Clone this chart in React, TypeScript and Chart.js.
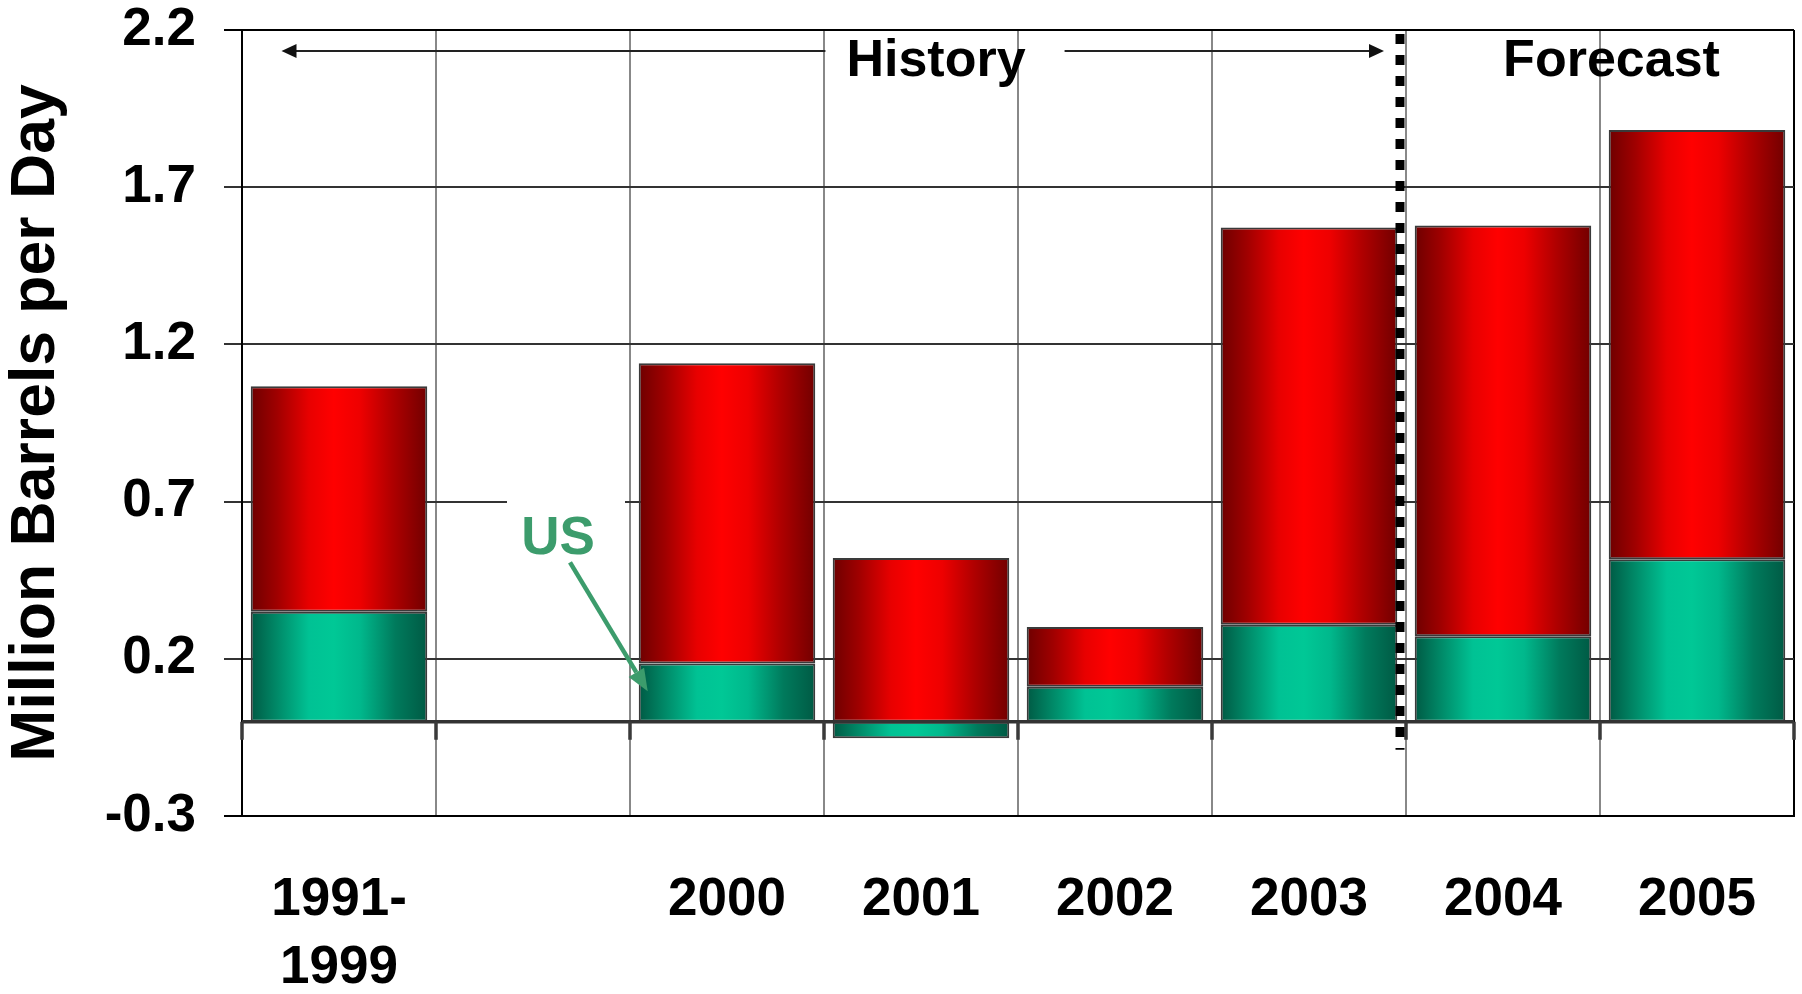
import React, { useEffect, useRef } from "react";
import { Chart, registerables } from "chart.js";

Chart.register(...registerables);

// ---------------- data ----------------
const categories: (string | string[])[] = [["1991-", "1999"], "", "2000", "2001", "2002", "2003", "2004", "2005"];
const usValues: (number | null)[] = [0.35, null, 0.185, -0.053, 0.111, 0.308, 0.272, 0.517];
const otherValues: (number | null)[] = [0.717, null, 0.955, 0.521, 0.19, 1.264, 1.306, 1.365];
const yTicks: number[] = [-0.3, 0.2, 0.7, 1.2, 1.7, 2.2];
const yTitle = "Million Barrels per Day";
const historyLabel = "History";
const forecastLabel = "Forecast";
const usLabel = "US";

// ---------------- style ----------------
const FONT = '"Liberation Sans", Arial, Helvetica, sans-serif';
const BAR_PCT = 0.91;
const RED_STOPS: [number, string][] = [
  [0, "#6e0000"],
  [0.15, "#a00000"],
  [0.33, "#e80000"],
  [0.47, "#ff0000"],
  [0.62, "#ee0000"],
  [0.8, "#b00000"],
  [1, "#720000"],
];
const GREEN_STOPS: [number, string][] = [
  [0, "#005a44"],
  [0.15, "#008a68"],
  [0.33, "#00c294"],
  [0.47, "#00c896"],
  [0.62, "#00b88c"],
  [0.82, "#007a5c"],
  [1, "#005a44"],
];
const US_GREEN = "#3c9c6c";

function barGradient(stops: [number, string][]) {
  return (c: any) => {
    const chart = c.chart;
    const area = chart.chartArea;
    const xs = chart.scales && chart.scales.x;
    if (!area || !xs || c.dataIndex === undefined) return stops[3][1];
    const center = xs.getPixelForValue(c.dataIndex);
    const catW = (area.right - area.left) / categories.length;
    const half = (catW * BAR_PCT) / 2;
    const g = chart.ctx.createLinearGradient(center - half, 0, center + half, 0);
    stops.forEach(([o, col]) => g.addColorStop(o, col));
    return g;
  };
}

function arrowHead(ctx: CanvasRenderingContext2D, x1: number, y1: number, x2: number, y2: number, len: number, half: number) {
  const ang = Math.atan2(y2 - y1, x2 - x1);
  const bx = x2 - len * Math.cos(ang);
  const by = y2 - len * Math.sin(ang);
  ctx.beginPath();
  ctx.moveTo(x2, y2);
  ctx.lineTo(bx + half * Math.sin(ang), by - half * Math.cos(ang));
  ctx.lineTo(bx - half * Math.sin(ang), by + half * Math.cos(ang));
  ctx.closePath();
  ctx.fill();
  return [bx, by];
}

const overlayPlugin = {
  id: "overlay",
  afterDatasetsDraw(chart: any) {
    const { ctx, chartArea: a, scales } = chart;
    const x = scales.x;
    const y = scales.y;
    const n = categories.length;
    const catW = (a.right - a.left) / n;
    const edge = (i: number) => x.getPixelForValue(i - 0.5);
    const y0 = y.getPixelForValue(0);

    ctx.save();

    // zero axis line with category tick marks
    ctx.strokeStyle = "#333333";
    ctx.lineWidth = 3.5;
    ctx.beginPath();
    ctx.moveTo(a.left, y0);
    ctx.lineTo(a.right, y0);
    ctx.stroke();
    ctx.strokeStyle = "#3a3a3a";
    ctx.lineWidth = 3.5;
    ctx.beginPath();
    for (let i = 0; i <= n; i++) {
      const ex = edge(i);
      ctx.moveTo(ex, y0);
      ctx.lineTo(ex, y0 + 18);
    }
    ctx.stroke();

    // "US" label with white box and arrow
    const usX = x.getPixelForValue(1) + 25;
    const usBase = y.getPixelForValue(0.532);
    ctx.fillStyle = "#ffffff";
    ctx.fillRect(usX - 51, usBase - 78, 118, 84);
    ctx.fillStyle = US_GREEN;
    ctx.font = `bold 53px ${FONT}`;
    ctx.textAlign = "center";
    ctx.textBaseline = "alphabetic";
    ctx.fillText(usLabel, usX, usBase);
    const sx = usX + 12;
    const sy = usBase + 8;
    const tx = x.getPixelForValue(2) - (catW * BAR_PCT) / 2 + 9;
    const ty = y.getPixelForValue(0.097);
    const [hbx, hby] = arrowHead(ctx, sx, sy, tx, ty, 22, 9);
    ctx.strokeStyle = US_GREEN;
    ctx.lineWidth = 4.5;
    ctx.beginPath();
    ctx.moveTo(sx, sy);
    ctx.lineTo(hbx, hby);
    ctx.stroke();

    // dotted divider between history and forecast
    const dx = edge(6) - 6;
    ctx.strokeStyle = "#000000";
    ctx.lineWidth = 9;
    ctx.setLineDash([10, 11]);
    ctx.beginPath();
    ctx.moveTo(dx, a.top + 4);
    ctx.lineTo(dx, y0 + 28);
    ctx.stroke();
    ctx.setLineDash([]);

    // History arrows and labels
    const arrowY = a.top + 21;
    const textBase = a.top + 46;
    ctx.font = `bold 52px ${FONT}`;
    ctx.fillStyle = "#000000";
    ctx.textAlign = "center";
    const hx = x.getPixelForValue(3) + 15;
    ctx.fillText(historyLabel, hx, textBase);
    const hw = ctx.measureText(historyLabel).width;
    const leftTip = a.left + 39.5;
    const rightTip = dx - 16;
    ctx.strokeStyle = "#222222";
    ctx.lineWidth = 2;
    ctx.beginPath();
    ctx.moveTo(hx - hw / 2 - 21, arrowY);
    ctx.lineTo(leftTip + 14, arrowY);
    ctx.moveTo(hx + hw / 2 + 39, arrowY);
    ctx.lineTo(rightTip - 14, arrowY);
    ctx.stroke();
    ctx.fillStyle = "#111111";
    arrowHead(ctx, leftTip + 20, arrowY, leftTip, arrowY, 15, 7);
    arrowHead(ctx, rightTip - 20, arrowY, rightTip, arrowY, 15, 7);

    ctx.fillStyle = "#000000";
    ctx.fillText(forecastLabel, edge(7) + 11.5, textBase);

    ctx.restore();
  },
};

const isEdgeTick = (v: number) => Math.abs(v - yTicks[0]) < 1e-6 || Math.abs(v - yTicks[yTicks.length - 1]) < 1e-6;

export default function App() {
  const ref = useRef<HTMLCanvasElement | null>(null);

  useEffect(() => {
    if (!ref.current) return;
    const chart = new Chart(ref.current, {
      type: "bar",
      data: {
        labels: categories as any,
        datasets: [
          {
            label: "US",
            data: usValues,
            backgroundColor: barGradient(GREEN_STOPS) as any,
            borderColor: "#3a3a3a",
            borderWidth: 2,
            borderSkipped: false,
            barPercentage: BAR_PCT,
            categoryPercentage: 1.0,
          },
          {
            label: "Other",
            data: otherValues,
            backgroundColor: barGradient(RED_STOPS) as any,
            borderColor: "#3a3a3a",
            borderWidth: 2,
            borderSkipped: false,
            barPercentage: BAR_PCT,
            categoryPercentage: 1.0,
          },
        ],
      },
      options: {
        animation: false,
        responsive: true,
        maintainAspectRatio: false,
        layout: { padding: { left: 0, top: 30, right: 8, bottom: 0 } },
        plugins: {
          legend: { display: false },
          tooltip: { enabled: false },
        },
        scales: {
          x: {
            stacked: true,
            offset: true,
            grid: {
              offset: true,
              drawTicks: false,
              lineWidth: 2,
              color: (c: any) => (c.index === undefined || c.index === 0 ? "#000000" : "#888888"),
            },
            border: { display: true, color: "#000000", width: 2 },
            ticks: {
              autoSkip: false,
              maxRotation: 0,
              minRotation: 0,
              padding: 49.5,
              color: "#000000",
              font: { family: FONT, size: 53, weight: "bold", lineHeight: 1.3 },
            },
            afterFit: (s: any) => {
              s.height = 178;
              s.paddingLeft = 0;
              s.paddingRight = 0;
            },
          },
          y: {
            stacked: true,
            min: -0.3,
            max: 2.2,
            afterBuildTicks: (s: any) => {
              s.ticks = yTicks.map((v) => ({ value: v }));
            },
            grid: {
              lineWidth: 2,
              tickLength: 18,
              color: (c: any) => (c.tick && isEdgeTick(c.tick.value) ? "#000000" : "#333333"),
            },
            border: { display: true, color: "#000000", width: 2 },
            ticks: {
              padding: 28,
              color: "#000000",
              font: { family: FONT, size: 53, weight: "bold", lineHeight: 1.2 },
              callback: (v: any) => Number(v).toFixed(1),
            },
            title: {
              display: true,
              text: yTitle,
              color: "#000000",
              padding: { top: 6, bottom: 0 },
              font: { family: FONT, size: 62.5, weight: "bold", lineHeight: 1 },
            },
            afterFit: (s: any) => {
              s.width = 242;
              s.paddingTop = 0;
              s.paddingBottom = 0;
            },
          },
        },
      },
      plugins: [overlayPlugin],
    });
    return () => chart.destroy();
  }, []);

  return (
    <div style={{ position: "absolute", left: 0, top: 0, width: 1802, height: 994, background: "#ffffff" }}>
      <canvas ref={ref} />
    </div>
  );
}
